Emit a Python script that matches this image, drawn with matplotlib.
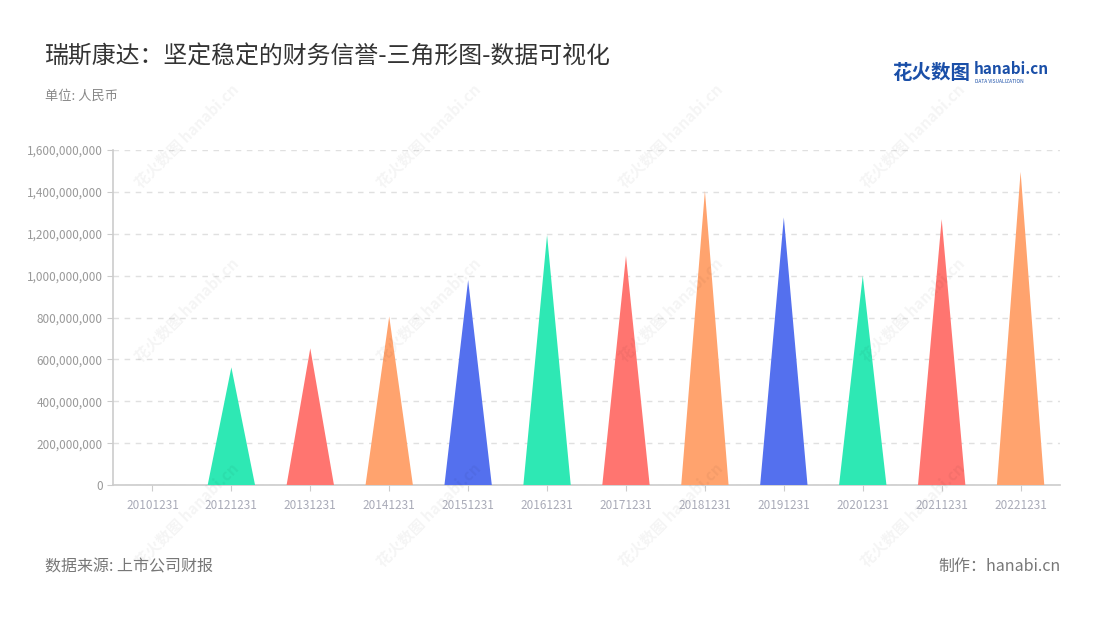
import matplotlib.pyplot as plt
from matplotlib.ticker import FuncFormatter

plt.rcParams['font.family'] = ['Noto Sans CJK SC', 'DejaVu Sans']

# data
dates = ['20101231', '20121231', '20131231', '20141231', '20151231', '20161231',
         '20171231', '20181231', '20191231', '20201231', '20211231', '20221231']
values = [0, 562e6, 653e6, 805e6, 979e6, 1194e6, 1095e6, 1405e6, 1278e6, 1000e6, 1270e6, 1496e6]
palette = ['#5470ee', '#2ee8b4', '#ff7570', '#ffa36e']

fig = plt.figure(figsize=(11, 6.2), dpi=100)
ax = fig.add_axes([0.1027, 0.2177, 0.861, 0.5403])

# triangles
for i, v in enumerate(values):
    if v > 0:
        ax.fill([i - 0.3, i, i + 0.3], [0, v, 0], color=palette[i % 4], lw=0, zorder=3)

ax.set_xlim(-0.5, len(dates) - 0.5)
ax.set_ylim(0, 1.6e9)
ax.set_yticks([i * 2e8 for i in range(9)])
ax.yaxis.set_major_formatter(FuncFormatter(lambda v, p: f'{int(v):,}'))
ax.set_xticks(range(len(dates)))
ax.set_xticklabels(dates)

ax.grid(axis='y', color='#e0e0e0', ls=(0, (4, 4)), lw=1, zorder=0)
for s in ['top', 'right']:
    ax.spines[s].set_visible(False)
for s in ['left', 'bottom']:
    ax.spines[s].set_color('#cccccc')
    ax.spines[s].set_linewidth(1.2)
ax.tick_params(axis='y', colors='#cccccc', labelcolor='#999999', labelsize=8.5, length=4)
ax.tick_params(axis='x', colors='#cccccc', labelcolor='#a9abb8', labelsize=8.5, length=4, pad=6)

# watermarks
for wx in [0.17, 0.39, 0.61, 0.83]:
    for wy in [0.78, 0.50, 0.17]:
        fig.text(wx, wy, '花火数图 hanabi.cn', rotation=45, fontsize=11, color='#000000',
                 alpha=0.045, ha='center', va='center', fontweight='bold')

# titles
fig.text(0.041, 0.908, '瑞斯康达：坚定稳定的财务信誉-三角形图-数据可视化', fontsize=17.2, color='#333333',
         va='center')
fig.text(0.041, 0.845, '单位: 人民币', fontsize=9.5, color='#888888', va='center')
fig.text(0.041, 0.086, '数据来源: 上市公司财报', fontsize=11.5, color='#777777', va='center')
fig.text(0.964, 0.086, '制作：hanabi.cn', fontsize=11.5, color='#777777', va='center', ha='right')

# logo
fig.text(0.811, 0.882, '花火数图', fontsize=14, color='#1a4fa8', fontweight='bold', va='center')
fig.text(0.885, 0.888, 'hanabi.cn', fontsize=11, color='#1a4fa8', fontweight='bold', va='center')
fig.text(0.886, 0.868, 'DATA VISUALIZATION', fontsize=3.5, color='#1a4fa8', va='center')

fig.savefig('out.png', dpi=100, facecolor='white')
